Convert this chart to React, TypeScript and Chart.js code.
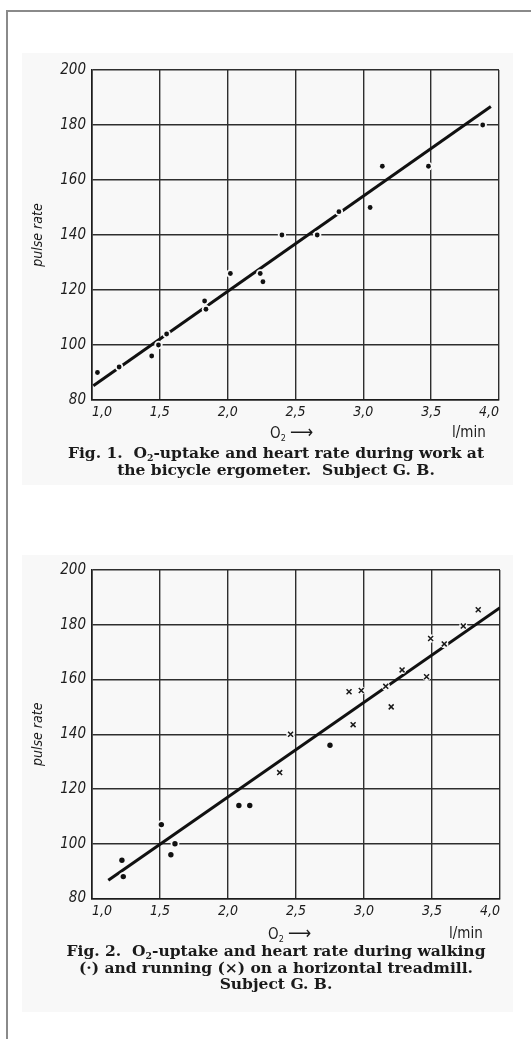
import React, { useEffect, useRef } from "react";
import { Chart, registerables } from "chart.js";

Chart.register(...registerables);

// ---------- data ----------
const X_TICK_LABELS = ["1,0", "1,5", "2,0", "2,5", "3,0", "3,5", "4,0"];
const Y_TICK_LABELS = ["80", "100", "120", "140", "160", "180", "200"];

// Fig. 1 — bicycle ergometer
const fig1O2 = [1.04, 1.2, 1.44, 1.49, 1.55, 1.83, 1.84, 2.02, 2.24, 2.26, 2.4, 2.66, 2.82, 3.05, 3.14, 3.48, 3.88];
const fig1Pulse = [90, 92, 96, 100, 104, 116, 113, 126, 126, 123, 140, 140, 148.5, 150, 165, 165, 180];
const fig1LineX = [1.01, 3.94];
const fig1LineY = [85.2, 186.7];

// Fig. 2 — treadmill: walking (dots) and running (crosses)
const fig2WalkO2 = [1.22, 1.23, 1.51, 1.58, 1.61, 2.08, 2.16, 2.75];
const fig2WalkPulse = [94, 88, 107, 96, 100, 114, 114, 136];
const fig2RunO2 = [2.38, 2.46, 2.89, 2.92, 2.98, 3.16, 3.2, 3.28, 3.46, 3.49, 3.59, 3.73, 3.84];
const fig2RunPulse = [126, 140, 155.5, 143.5, 156, 157.5, 150, 163.5, 161, 175, 173, 179.5, 185.5];
const fig2LineX = [1.12, 4.0];
const fig2LineY = [86.7, 186.2];

const PANEL_BG = "rgb(248,248,248)";
const INK = "#1c1c1c";
const HAND = '"DejaVu Sans Condensed", "DejaVu Sans", sans-serif';

function pts(xs: number[], ys: number[]) {
  return xs.map((x, i) => ({ x, y: ys[i] }));
}

function buildOptions(padRight: number, padTop: number, xAxisH: number) {
  return {
    responsive: false,
    animation: false as const,
    events: [] as any[],
    layout: { padding: { left: 0, top: padTop, right: padRight, bottom: 0 } },
    plugins: { legend: { display: false }, tooltip: { enabled: false } },
    scales: {
      x: {
        type: "linear" as const,
        min: 1,
        max: 4,
        afterFit: (s: any) => {
          s.height = xAxisH;
        },
        ticks: {
          stepSize: 0.5,
          autoSkip: false,
          maxRotation: 0,
          align: "inner" as const,
          padding: 4,
          color: INK,
          font: { family: HAND, style: "italic" as const, size: 14 },
          callback: (_v: any, i: number) => X_TICK_LABELS[i],
        },
        grid: { color: "#2e2e2e", lineWidth: 1.4, drawTicks: false },
        border: { display: true, color: INK, width: 1.6 },
      },
      y: {
        type: "linear" as const,
        min: 80,
        max: 200,
        afterFit: (s: any) => {
          s.width = 92;
        },
        title: {
          display: true,
          text: "pulse rate",
          color: INK,
          padding: { top: 30, bottom: 0 },
          font: { family: HAND, style: "italic" as const, size: 14 },
        },
        ticks: {
          stepSize: 20,
          autoSkip: false,
          padding: 6,
          color: INK,
          font: { family: HAND, style: "italic" as const, size: 15 },
          callback: (_v: any, i: number) => Y_TICK_LABELS[i],
        },
        grid: { color: "#2e2e2e", lineWidth: 1.4, drawTicks: false },
        border: { display: true, color: INK, width: 1.6 },
      },
    },
  };
}

function lineDs(xs: number[], ys: number[]) {
  return {
    data: pts(xs, ys),
    showLine: true,
    borderColor: "#111",
    borderWidth: 3,
    pointRadius: 0,
    order: 3,
  };
}

function haloDs(xs: number[], ys: number[], r: number) {
  return {
    data: pts(xs, ys),
    showLine: false,
    pointRadius: r,
    pointBackgroundColor: PANEL_BG,
    pointBorderWidth: 0,
    order: 2,
  };
}

function dotDs(xs: number[], ys: number[], r: number) {
  return {
    data: pts(xs, ys),
    showLine: false,
    pointRadius: r,
    pointBackgroundColor: "#111",
    pointBorderWidth: 0,
    order: 0,
  };
}

function crossDs(xs: number[], ys: number[]) {
  return {
    data: pts(xs, ys),
    showLine: false,
    pointStyle: "crossRot" as const,
    pointRadius: 3.5,
    pointBorderColor: "#1a1a1a",
    pointBorderWidth: 1.5,
    order: 0,
  };
}

function ChartCanvas({ top, height, datasets, padRight, xAxisH }: any) {
  const ref = useRef<HTMLCanvasElement | null>(null);
  useEffect(() => {
    if (!ref.current) return;
    const chart = new Chart(ref.current, {
      type: "scatter",
      data: { datasets },
      options: buildOptions(padRight, 70, xAxisH) as any,
    });
    return () => chart.destroy();
  }, []);
  return (
    <canvas
      ref={ref}
      width={531}
      height={height}
      style={{ position: "absolute", left: 0, top, width: 531, height }}
    />
  );
}

const captionStyle: React.CSSProperties = {
  position: "absolute",
  left: 0,
  width: 552,
  textAlign: "center",
  fontFamily: '"DejaVu Serif", serif',
  fontWeight: "bold",
  fontSize: 15.5,
  lineHeight: "16.5px",
  color: "#1a1a1a",
  whiteSpace: "nowrap",
};

const unitStyle: React.CSSProperties = {
  position: "absolute",
  fontFamily: HAND,
  fontSize: 15,
  lineHeight: "18px",
  color: INK,
  whiteSpace: "nowrap",
};

const subStyle: React.CSSProperties = {
  fontSize: "0.6em",
  position: "relative",
  top: "0.3em",
  lineHeight: 0,
};

export default function App() {
  const ds1 = [
    dotDs(fig1O2, fig1Pulse, 2.4),
    haloDs(fig1O2, fig1Pulse, 4.2),
    lineDs(fig1LineX, fig1LineY),
  ];
  const ds2 = [
    dotDs(fig2WalkO2, fig2WalkPulse, 2.7),
    crossDs(fig2RunO2, fig2RunPulse),
    haloDs(fig2WalkO2, fig2WalkPulse, 4.4),
    haloDs(fig2RunO2, fig2RunPulse, 4.2),
    lineDs(fig2LineX, fig2LineY),
  ];
  return (
    <div
      style={{
        position: "absolute",
        left: 0,
        top: 0,
        width: 531,
        height: 1039,
        overflow: "hidden",
        background: "#fff",
      }}
    >
      {/* outer frame */}
      <div style={{ position: "absolute", left: 7, top: 10, width: 524, height: 2, background: "#8a8a8a" }} />
      <div style={{ position: "absolute", left: 6, top: 10, width: 2, height: 1029, background: "#8a8a8a" }} />
      {/* scanned panels */}
      <div style={{ position: "absolute", left: 22, top: 53, width: 491, height: 432, background: PANEL_BG }} />
      <div style={{ position: "absolute", left: 22, top: 555, width: 491, height: 457, background: PANEL_BG }} />

      <ChartCanvas top={0} height={425} datasets={ds1} padRight={32} xAxisH={25} />
      <ChartCanvas top={500} height={425} datasets={ds2} padRight={31} xAxisH={26.5} />

      {/* Fig. 1 labels */}
      <div style={{ ...unitStyle, left: 270, top: 423 }}>
        O<span style={subStyle}>2</span> <span style={{ fontSize: 18 }}>⟶</span>
      </div>
      <div style={{ ...unitStyle, left: 452, top: 423 }}>l/min</div>
      <div style={{ ...captionStyle, top: 445 }}>
        Fig. 1.&nbsp; O<span style={subStyle}>2</span>-uptake and heart rate during work at
        <br />
        the bicycle ergometer.&nbsp; Subject G. B.
      </div>

      {/* Fig. 2 labels */}
      <div style={{ ...unitStyle, left: 268, top: 924 }}>
        O<span style={subStyle}>2</span> <span style={{ fontSize: 18 }}>⟶</span>
      </div>
      <div style={{ ...unitStyle, left: 449, top: 924 }}>l/min</div>
      <div style={{ ...captionStyle, top: 943 }}>
        Fig. 2.&nbsp; O<span style={subStyle}>2</span>-uptake and heart rate during walking
        <br />
        (·) and running (×) on a horizontal treadmill.
        <br />
        Subject G. B.
      </div>
    </div>
  );
}
